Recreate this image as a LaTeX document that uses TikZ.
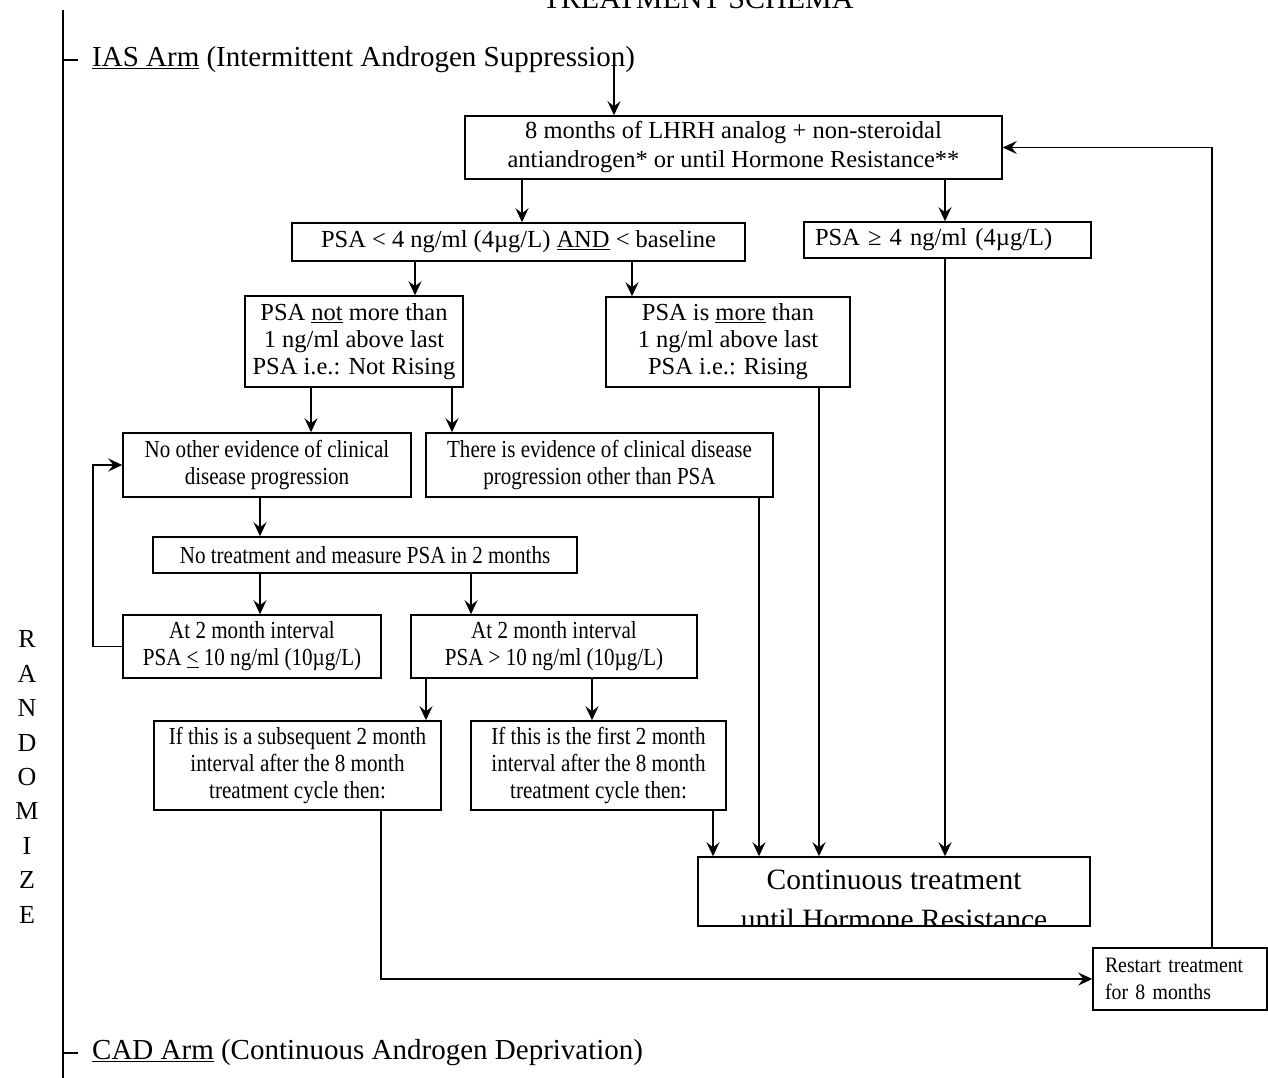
\documentclass[tikz,border=0pt]{standalone}
\usepackage{fontspec}
\setmainfont{Liberation Serif}
\newfontfamily\condfont{Liberation Serif}[FakeStretch=0.86]
\newfontfamily\restfont{Liberation Serif}[FakeStretch=0.9]
\usetikzlibrary{arrows.meta}
\begin{document}
\begin{tikzpicture}[x=1pt,y=-1pt,
  box/.style={draw, line width=1.5pt, inner sep=0pt, align=center, font=\fontsize{24.5}{27}\selectfont},
  cbox/.style={box, font=\condfont\fontsize{24.5}{27}\selectfont},
  arr/.style={line width=1.6pt, -{Stealth[length=14pt,width=13pt,inset=5pt]}},
  ln/.style={line width=1.6pt}]
\useasboundingbox (0,0) rectangle (1268,1078);
\clip (0,0) rectangle (1268,1078);

% title and arms
\node[anchor=base, inner sep=0pt, font=\fontsize{30}{34}\selectfont] (title) at (698,9) {TREATMENT SCHEMA};
\draw[ln] (63,10) -- (63,1080);
\draw[ln] (63,60) -- (78,60);
\draw[ln] (63,1053) -- (78,1053);
\node[anchor=west, inner sep=0pt, font=\fontsize{29}{33}\selectfont] (ias) at (92,60) {\underline{IAS Arm} (Intermittent Androgen Suppression)};
\node[anchor=west, inner sep=0pt, font=\fontsize{29}{33}\selectfont] (cad) at (92,1053) {\underline{CAD Arm} (Continuous Androgen Deprivation)};
\node[align=center, inner sep=0pt, font=\fontsize{26}{34.4}\selectfont] (rand) at (27,777) {R\\A\\N\\D\\O\\M\\I\\Z\\E};

% boxes
\node[box, minimum width=537pt, minimum height=63pt, font=\fontsize{24.5}{29}\selectfont] (b1) at (733.5,147.5) {8 months of LHRH analog + non-steroidal\\antiandrogen* or until Hormone Resistance**};
\node[box, minimum width=453pt, minimum height=38pt] (b2) at (518.5,242) {PSA < 4 ng/ml (4µg/L) \underline{AND} < baseline};
\node[box, minimum width=287pt, minimum height=36pt, align=left, text width=265pt] (b3) at (947.5,240) {PSA ≥ 4 ng/ml (4µg/L)};
\node[box, minimum width=218pt, minimum height=91pt] (b4) at (354,341.5) {PSA \underline{not} more than\\1 ng/ml above last\\PSA i.e.: Not Rising};
\node[box, minimum width=244pt, minimum height=90pt] (b5) at (728,342) {PSA is \underline{more} than\\1 ng/ml above last\\PSA i.e.: Rising};
\node[cbox, minimum width=288pt, minimum height=64pt] (b6) at (267,465) {No other evidence of clinical\\disease progression};
\node[cbox, minimum width=347pt, minimum height=64pt] (b7) at (599.5,465) {There is evidence of clinical disease\\progression other than PSA};
\node[cbox, minimum width=424pt, minimum height=36pt] (b8) at (365,555) {No treatment and measure PSA in 2 months};
\node[cbox, minimum width=258pt, minimum height=63pt] (b9) at (252,646.5) {At 2 month interval\\PSA \underline{<} 10 ng/ml (10µg/L)};
\node[cbox, minimum width=286pt, minimum height=63pt] (b10) at (554,646.5) {At 2 month interval\\PSA > 10 ng/ml (10µg/L)};
\node[cbox, minimum width=287pt, minimum height=89pt] (b11) at (297.5,765.5) {If this is a subsequent 2 month\\interval after the 8 month\\treatment cycle then:};
\node[cbox, minimum width=255pt, minimum height=89pt] (b12) at (598.5,765.5) {If this is the first 2 month\\interval after the 8 month\\treatment cycle then:};
\node[box, align=left, text width=150pt, inner xsep=12pt, minimum height=62pt, font=\restfont\fontsize{22}{27}\selectfont] (restart) at (1180,979) {Restart treatment\\for 8 months};

% continuous treatment box (text clipped at bottom)
\begin{scope}
\clip (698,857) rectangle (1090,925.5);
\node[anchor=base, inner sep=0pt, font=\fontsize{29.5}{38}\selectfont] (contA) at (894,889) {Continuous treatment};
\node[anchor=base, inner sep=0pt, font=\fontsize{29.5}{38}\selectfont] (contB) at (894,929) {until Hormone Resistance};
\end{scope}
\node[draw, line width=1.5pt, minimum width=392pt, minimum height=69pt, inner sep=0pt] (cont) at (894,891.5) {};

% connectors
\coordinate (start) at (614,55);
\draw[arr] (start) -- (start |- b1.north);
\draw[arr] (522,0 |- b1.south) -- (522,0 |- b2.north);
\draw[arr] (945,0 |- b1.south) -- (945,0 |- b3.north);
\draw[arr] (415,0 |- b2.south) -- (415,0 |- b4.north);
\draw[arr] (632,0 |- b2.south) -- (632,0 |- b5.north);
\draw[arr] (311,0 |- b4.south) -- (311,0 |- b6.north);
\draw[arr] (452,0 |- b4.south) -- (452,0 |- b7.north);
\draw[arr] (260,0 |- b6.south) -- (260,0 |- b8.north);
\draw[arr] (260,0 |- b8.south) -- (260,0 |- b9.north);
\draw[arr] (471,0 |- b8.south) -- (471,0 |- b10.north);
\draw[arr] (426,0 |- b10.south) -- (426,0 |- b11.north);
\draw[arr] (592,0 |- b10.south) -- (592,0 |- b12.north);
\draw[arr] (b9.west) -- (93,0 |- b9.west) |- (b6.west);
\draw[arr] (713,0 |- b12.south) -- (713,0 |- cont.north);
\draw[arr] (759,0 |- b7.south) -- (759,0 |- cont.north);
\draw[arr] (819,0 |- b5.south) -- (819,0 |- cont.north);
\draw[arr] (945,0 |- b3.south) -- (945,0 |- cont.north);
\draw[arr] (381,0 |- b11.south) |- (restart.west);
\draw[arr] (1212,0 |- restart.north) |- (b1.east);
\end{tikzpicture}
\end{document}
